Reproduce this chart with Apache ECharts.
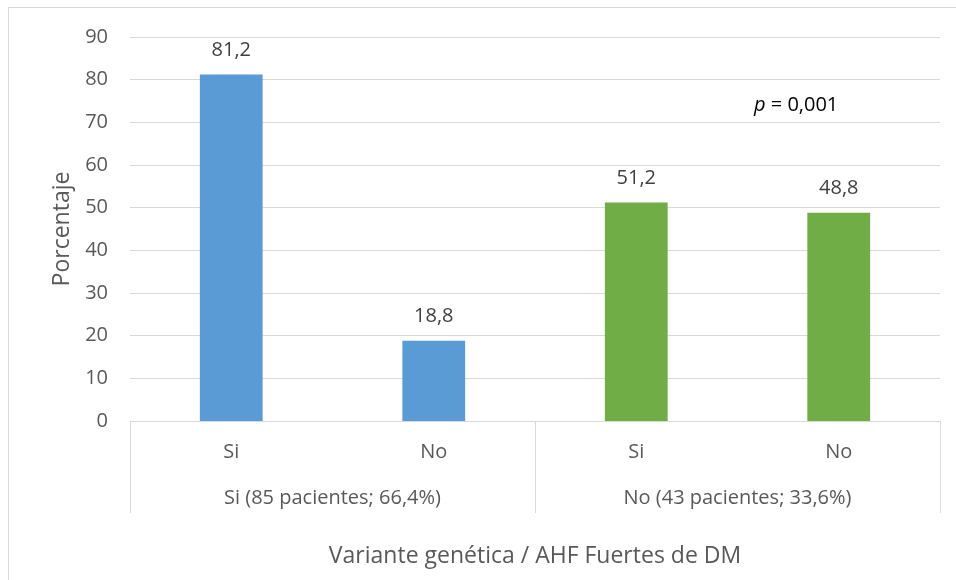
<!DOCTYPE html>
<html>
<head>
<meta charset="utf-8">
<script src="https://cdn.jsdelivr.net/npm/echarts@6/dist/echarts.min.js"></script>
<style>
html,body{margin:0;padding:0;background:#fff;}
#frame{position:absolute;left:8px;top:7px;width:960px;height:600px;border:1px solid #d9d9d9;box-sizing:border-box;}
#chart{position:absolute;left:0;top:0;width:956px;height:580px;}
</style>
</head>
<body>
<div id="frame"></div>
<div id="chart"></div>
<script>
const innerCategories = ['Si', 'No', 'Si', 'No'];
const groupLabels = ['Si (85 pacientes; 66,4%)', 'No (43 pacientes; 33,6%)'];
const groupOfCategory = [0, 0, 1, 1];
const values = [81.2, 18.8, 51.2, 48.8];
const yTicks = [0, 10, 20, 30, 40, 50, 60, 70, 80, 90];
const pValueText = '0,001';

const groupColors = ['#5B9BD5', '#70AD47'];
const FONT = '"Open Sans", Lato, sans-serif';
const TXT = '#595959';

const chart = echarts.init(document.getElementById('chart'), null, {renderer: 'canvas'});
chart.setOption({
  animation: false,
  backgroundColor: 'transparent',
  grid: {left: 130, right: 16, top: 37, bottom: 159, containLabel: false},
  title: {
    text: '{i|p} = ' + pValueText,
    left: 749, top: 90,
    textStyle: {
      fontFamily: FONT, fontSize: 20, color: '#000', fontWeight: 'normal',
      rich: {i: {fontFamily: FONT, fontSize: 20, fontStyle: 'italic', color: '#000'}}
    }
  },
  xAxis: [
    {
      type: 'category', data: innerCategories, position: 'bottom',
      axisLine: {show: true, lineStyle: {color: '#d9d9d9', width: 1}},
      axisTick: {show: false},
      axisLabel: {fontFamily: FONT, fontSize: 20, color: TXT, margin: 21},
      name: 'Variante genética / AHF Fuertes de DM',
      nameLocation: 'middle', nameGap: 124,
      nameTextStyle: {fontFamily: FONT, fontSize: 23, color: TXT}
    },
    {
      type: 'category', data: groupLabels, position: 'bottom',
      axisLine: {show: false},
      axisTick: {show: true, length: 92, lineStyle: {color: '#d9d9d9', width: 1}},
      axisLabel: {fontFamily: FONT, fontSize: 20, color: TXT, margin: 67},
      splitLine: {show: false}
    }
  ],
  yAxis: {
    type: 'value', min: yTicks[0], max: yTicks[yTicks.length - 1], interval: yTicks[1] - yTicks[0],
    axisLine: {show: false}, axisTick: {show: false},
    axisLabel: {fontFamily: FONT, fontSize: 20, color: TXT, margin: 22},
    splitLine: {lineStyle: {color: '#d9d9d9', width: 1}},
    name: 'Porcentaje', nameLocation: 'middle', nameGap: 55, nameRotate: 90,
    nameTextStyle: {fontFamily: FONT, fontSize: 23, color: TXT}
  },
  series: [{
    type: 'bar', xAxisIndex: 0,
    barWidth: '31%',
    data: values.map((v, i) => ({value: v, itemStyle: {color: groupColors[groupOfCategory[i]]}})),
    label: {
      show: true, position: 'top', distance: 14,
      fontFamily: FONT, fontSize: 20, color: '#404040',
      formatter: p => p.value.toFixed(1).replace('.', ',')
    }
  }]
});
</script>
</body>
</html>
